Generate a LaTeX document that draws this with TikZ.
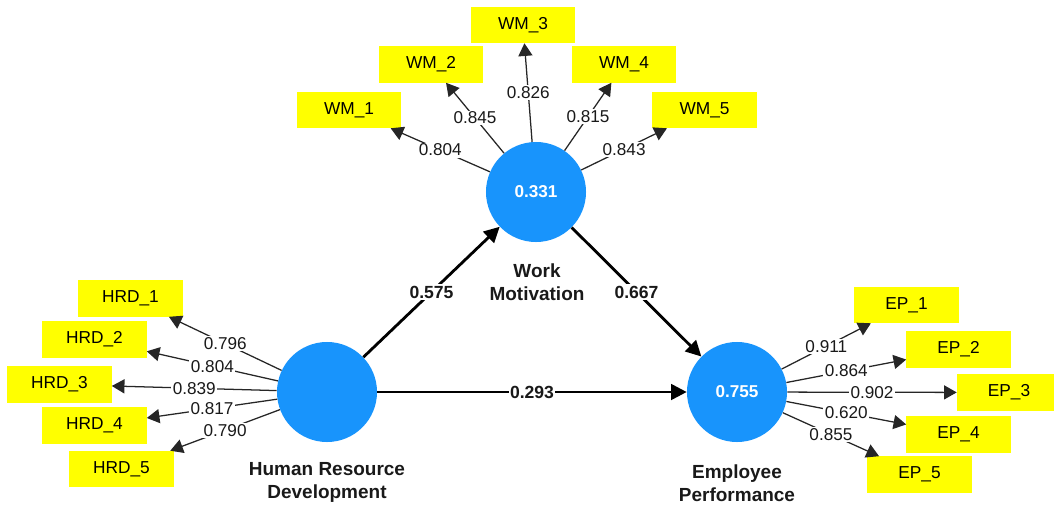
\documentclass[tikz,border=0pt]{standalone}
\usepackage{fontspec}
\setmainfont{Liberation Sans}
\usetikzlibrary{arrows.meta}
\definecolor{lvblue}{RGB}{24,148,252}
\definecolor{indyellow}{RGB}{255,255,0}
\tikzset{
	latent/.style={circle, fill=lvblue, minimum size=2.5cm, inner sep=0pt, text=white, font=\fontsize{12.2}{14}\selectfont\bfseries},
	indicator/.style={rectangle, fill=indyellow, minimum width=2.6cm, minimum height=0.9cm, inner sep=0pt, font=\fontsize{12.3}{14}\selectfont},
	loading/.style={-{Triangle[length=9pt,width=10pt]}, line width=0.9pt, color=black!85},
	pathcoef/.style={-{Triangle[length=11pt,width=11pt]}, line width=2pt, color=black},
	lval/.style={fill=white, inner sep=1pt, font=\fontsize{12.2}{14}\selectfont, text=black!90},
	pval/.style={fill=white, inner sep=1pt, font=\fontsize{12.5}{14}\selectfont\bfseries, text=black!90},
	lvname/.style={align=center, font=\fontsize{13.5}{16.4}\selectfont\bfseries, text=black!90}
}

\begin{document}
\begin{tikzpicture}[x=0.025cm, y=-0.025cm]
		%%%%% START %%%%%
		\useasboundingbox (0, 0) rectangle (1054, 506);
		
		% latent variables
		\node[latent] (WM) at (536, 192) {0.331};
		\node[latent] (HRD) at (327, 392) {};
		\node[latent] (EP) at (737, 392) {0.755};
		
		\node[lvname] (WMname) at (537, 282) {Work\\Motivation};
		\node[lvname] (HRDname) at (327, 482) {Human Resource\\Development};
		\node[lvname] (EPname) at (737, 483) {Employee\\Performance};
		
		% indicators of work motivation
		\node[indicator] (WM1) at (349, 110) {WM\_1};
		\node[indicator] (WM2) at (431, 64.5) {WM\_2};
		\node[indicator] (WM3) at (523, 25) {WM\_3};
		\node[indicator] (WM4) at (624, 64.5) {WM\_4};
		\node[indicator] (WM5) at (704.5, 110) {WM\_5};
		
		% indicators of human resource development
		\node[indicator] (HRD1) at (130.5, 298.5) {HRD\_1};
		\node[indicator] (HRD2) at (94.5, 339.5) {HRD\_2};
		\node[indicator] (HRD3) at (59.5, 384.5) {HRD\_3};
		\node[indicator] (HRD4) at (94.5, 425.5) {HRD\_4};
		\node[indicator] (HRD5) at (121.5, 469) {HRD\_5};
		
		% indicators of employee performance
		\node[indicator] (EP1) at (906.5, 305) {EP\_1};
		\node[indicator] (EP2) at (958.5, 349.5) {EP\_2};
		\node[indicator] (EP3) at (1009, 392.5) {EP\_3};
		\node[indicator] (EP4) at (958.5, 434.5) {EP\_4};
		\node[indicator] (EP5) at (919.5, 474.5) {EP\_5};
		
		% outer loadings
		\draw[loading] (WM) -- (WM1) node[lval, midway] {0.804};
		\draw[loading] (WM) -- (WM2) node[lval, midway] {0.845};
		\draw[loading] (WM) -- (WM3) node[lval, midway] {0.826};
		\draw[loading] (WM) -- (WM4) node[lval, midway] {0.815};
		\draw[loading] (WM) -- (WM5) node[lval, midway] {0.843};
		
		\draw[loading] (HRD) -- (HRD1) node[lval, midway] {0.796};
		\draw[loading] (HRD) -- (HRD2) node[lval, midway] {0.804};
		\draw[loading] (HRD) -- (HRD3) node[lval, midway] {0.839};
		\draw[loading] (HRD) -- (HRD4) node[lval, midway] {0.817};
		\draw[loading] (HRD) -- (HRD5) node[lval, midway] {0.790};
		
		\draw[loading] (EP) -- (EP1) node[lval, midway] {0.911};
		\draw[loading] (EP) -- (EP2) node[lval, midway] {0.864};
		\draw[loading] (EP) -- (EP3) node[lval, midway] {0.902};
		\draw[loading] (EP) -- (EP4) node[lval, midway] {0.620};
		\draw[loading] (EP) -- (EP5) node[lval, midway] {0.855};
		
		% path coefficients
		\draw[pathcoef] (HRD) -- (WM) node[pval, midway] {0.575};
		\draw[pathcoef] (WM) -- (EP) node[pval, midway] {0.667};
		\draw[pathcoef] (HRD) -- (EP) node[pval, midway] {0.293};
		
		%%%%% END %%%%%
	\end{tikzpicture}
\end{document}
